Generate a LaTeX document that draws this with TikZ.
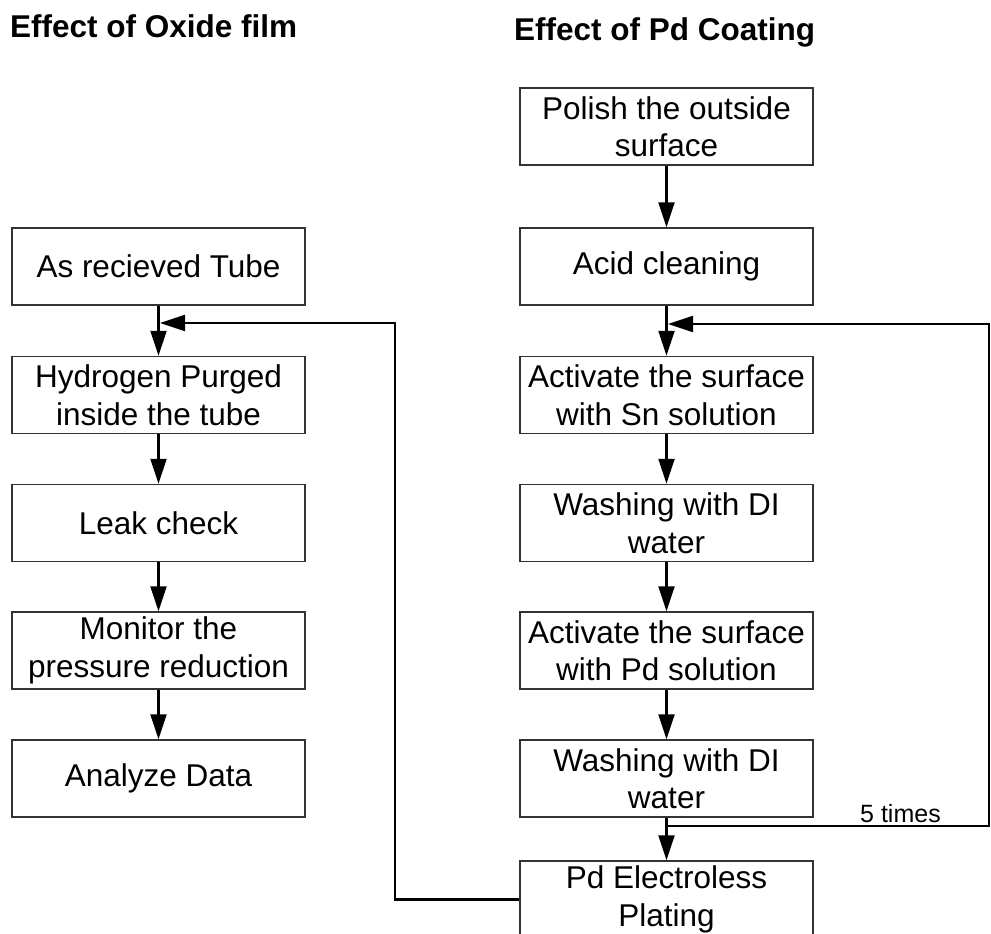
\documentclass[tikz,border=0pt]{standalone}
\usepackage{fontspec}
\setmainfont{Liberation Sans}
\usetikzlibrary{arrows.meta}
\begin{document}
\begin{tikzpicture}[x=1pt,y=-1pt,
  box/.style={draw=black!80, line width=1.4pt, minimum width=293pt, minimum height=77pt,
    align=center, inner sep=0pt, font=\fontsize{31.5}{37.5}\selectfont},
  ttl/.style={anchor=base west, inner sep=0pt, font=\fontsize{31.5}{37}\selectfont\bfseries},
  flow/.style={line width=2.2pt, -{Triangle[length=25pt,width=16pt]}},
  lbl/.style={anchor=base west, inner sep=0pt, font=\fontsize{25}{30}\selectfont}]
\useasboundingbox (0,0) rectangle (991,934);

% titles
\node[ttl] (t1) at (10,38) {Effect of Oxide film};
\node[ttl] (t2) at (514,41) {Effect of Pd Coating};

% left column
\node[box] (ar) at (158.5,266.5) {As recieved Tube};
\node[box] (hp) at (158.5,395) {Hydrogen Purged\\inside the tube};
\node[box] (lc) at (158.5,523) {Leak check};
\node[box] (mp) at (158.5,650.5) {Monitor the\\pressure reduction};
\node[box] (ad) at (158.5,778.5) {Analyze Data};

% right column
\node[box] (po) at (666.5,126.5) {Polish the outside\\surface};
\node[box] (ac) at (666.5,266.5) {Acid cleaning};
\node[box] (sn) at (666.5,395) {Activate the surface\\with Sn solution};
\node[box] (w1) at (666.5,523) {Washing with DI\\water};
\node[box] (pa) at (666.5,650.5) {Activate the surface\\with Pd solution};
\node[box] (w2) at (666.5,778.5) {Washing with DI\\water};
\node[box] (pd) at (666.5,899.5) {Pd Electroless\\Plating};

% left arrows
\draw[flow] (ar.south) -- (hp.north);
\draw[flow] (hp.south) -- (lc.north);
\draw[flow] (lc.south) -- (mp.north);
\draw[flow] (mp.south) -- (ad.north);

% right arrows
\draw[flow] (po.south) -- (ac.north);
\draw[flow] (ac.south) -- (sn.north);
\draw[flow] (sn.south) -- (w1.north);
\draw[flow] (w1.south) -- (pa.north);
\draw[flow] (pa.south) -- (w2.north);
\draw[flow] (w2.south) -- (pd.north);

% feedback to left column
\coordinate (jL) at (160,323);
\draw[flow] (pd.west) -- (395,899.5) -- (395,323) -- (jL);

% 5 times loop
\coordinate (jR2) at (666.5,826);
\coordinate (jR1) at (668,324);
\draw[flow] (jR2) -- (989,826) -- (989,324) -- (jR1);
\node[lbl] (five) at (860,822) {5 times};
\end{tikzpicture}
\end{document}
